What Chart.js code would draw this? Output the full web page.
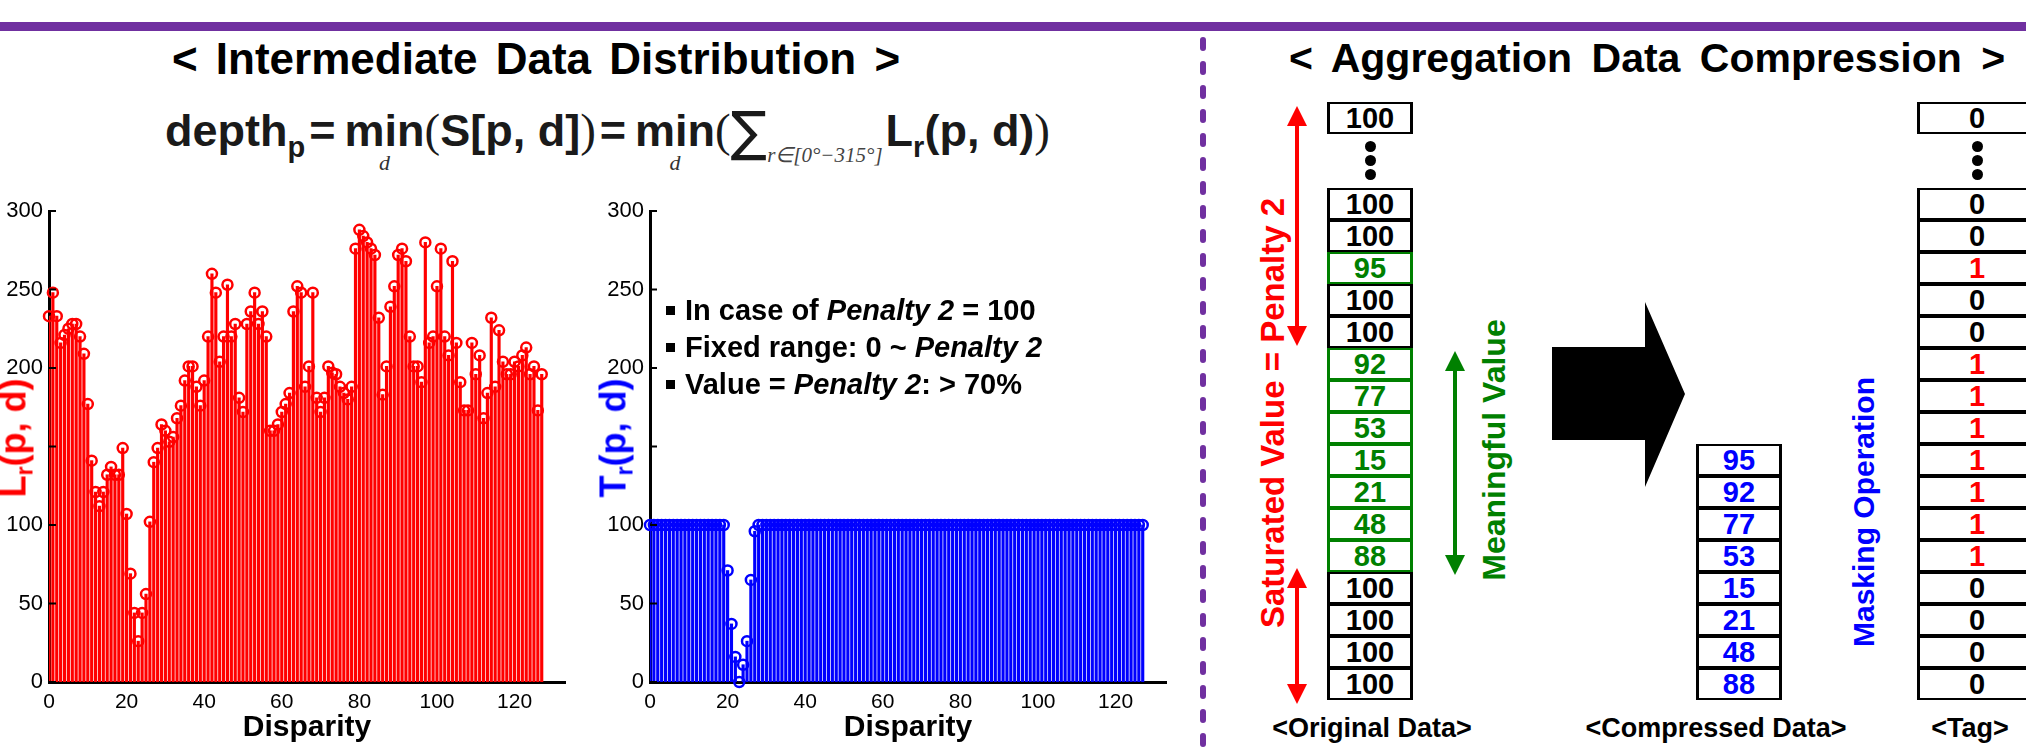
<!DOCTYPE html>
<html>
<head>
<meta charset="utf-8">
<title>Intermediate Data Distribution / Aggregation Data Compression</title>
<script src="https://cdn.jsdelivr.net/npm/chart.js@4.4.1/dist/chart.umd.min.js"></script>
<style>
  html, body { margin: 0; padding: 0; background: #fff; }
  body { position: relative; width: 2026px; height: 749px; overflow: hidden;
         font-family: "Liberation Sans", Arial, sans-serif; color: #000; }
  .abs { position: absolute; white-space: nowrap; }
  canvas { position: absolute; }
  #overlay { position: absolute; left: 0; top: 0; }

  .title { font: bold 40px/40px "Liberation Sans", Arial, sans-serif; transform: translateX(-50%); }
  #titleL { left: 536px; top: 37px; font-size: 44px; line-height: 44px; word-spacing: 6px; }
  #titleR { left: 1647px; top: 38px; font-size: 41px; line-height: 41px; word-spacing: 8px; }

  #formula { left: 165px; top: 108px; font: bold 45px/45px "Liberation Sans", Arial, sans-serif; color: #1a1a1a; }
  #formula .sb { font-size: 29px; vertical-align: -11px; }
  #formula .eq { margin: 0 9px 0 4px; }
  #formula .mn { position: relative; display: inline-block; }
  #formula .ud { position: absolute; left: 50%; top: 44px; transform: translateX(-50%);
                 font: italic 22px/22px "Liberation Serif", serif; color: #333; }
  #formula .lp { font-family: "Liberation Serif", serif; font-weight: normal; font-size: 47px; }
  #formula .sg { font: normal 54px/45px "DejaVu Sans", sans-serif; vertical-align: -4px; }
  #formula .rg { font: italic 21px/21px "Liberation Serif", serif; vertical-align: -16px; color: #444; margin-right: 3px; }

  .rot { font: bold 32px/32px "Liberation Sans", Arial, sans-serif; transform: translate(-50%, -50%) rotate(-90deg); }
  .rot sub { font-size: 23px; vertical-align: -7px; }
  .ytitle { font-size: 36px; line-height: 36px; }

  #notes { left: 666px; top: 292px; font: bold 29px/37px "Liberation Sans", Arial, sans-serif; }
  #notes .bl { display: inline-block; width: 9px; height: 9px; background: #000; margin-right: 10px; vertical-align: 5px; }

  .cell { position: absolute; box-sizing: border-box; border: solid #000; border-width: 2px 3px;
          text-align: center; font: bold 29px/28px "Liberation Sans", Arial, sans-serif; background: #fff; }
  .dot { position: absolute; width: 11px; height: 11px; border-radius: 50%; background: #000; }
  .lbl { top: 713px; font: bold 27px/30px "Liberation Sans", Arial, sans-serif; transform: translateX(-50%); }
</style>
</head>
<body>

<svg id="overlay" width="2026" height="749"></svg>

<div id="titleL" class="abs title">&lt; Intermediate Data Distribution &gt;</div>
<div id="titleR" class="abs title">&lt; Aggregation Data Compression &gt;</div>

<div id="formula" class="abs">depth<span class="sb">p</span><span class="eq">=</span><span class="mn">min<span class="ud">d</span></span><span class="lp">(</span>S[p, d]<span class="lp">)</span><span class="eq">=</span><span class="mn">min<span class="ud">d</span></span><span class="lp">(</span><span class="sg">&#8721;</span><span class="rg">r&#8712;[0&#176;&#8722;315&#176;]</span>L<span class="sb">r</span>(p, d)<span class="lp">)</span></div>

<canvas id="lrChart" width="600" height="560" style="left:0px;top:190px"></canvas>
<canvas id="trChart" width="600" height="560" style="left:601px;top:190px"></canvas>

<div class="abs rot ytitle" style="left:19px;top:438px;color:#ff0000">L<sub>r</sub>(p, d)</div>
<div class="abs rot ytitle" style="left:619px;top:438px;color:#0000ff">T<sub>r</sub>(p, d)</div>

<div id="notes" class="abs">
  <div><span class="bl"></span>In case of <i>Penalty 2</i> = 100</div>
  <div><span class="bl"></span>Fixed range: 0 ~ <i>Penalty 2</i></div>
  <div><span class="bl"></span>Value = <i>Penalty 2</i>: &gt; 70%</div>
</div>

<div class="abs rot" style="left:1273px;top:413px;color:#ff0000;font-size:33px">Saturated Value = Penalty 2</div>
<div class="abs rot" style="left:1494px;top:450px;color:#008000">Meaningful Value</div>
<div class="abs rot" style="left:1864px;top:512px;color:#0000ff;font-size:30px">Masking Operation</div>

<div class="abs lbl" style="left:1372px">&lt;Original Data&gt;</div>
<div class="abs lbl" style="left:1716px">&lt;Compressed Data&gt;</div>
<div class="abs lbl" style="left:1970px">&lt;Tag&gt;</div>

<script>
// ---- chart data ----
var disparity = [];
for (var i = 0; i < 128; i++) disparity.push(i);

// L_r(p, d)
var lrValues = [
  233, 248, 233, 216, 221, 225, 228, 228, 220, 209, 177, 141, 121, 112, 121, 132,
  137, 132, 132, 149, 107,  69,  44,  26,  44,  56, 102, 140, 149, 164, 160, 153,
  156, 168, 176, 192, 201, 201, 188, 176, 192, 220, 260, 248, 204, 220, 253, 220,
  228, 181, 172, 228, 236, 248, 228, 236, 220, 160, 160, 164, 172, 177, 184, 236,
  252, 248, 188, 201, 248, 181, 172, 181, 201, 197, 196, 188, 184, 180, 188, 276,
  288, 284, 280, 276, 272, 232, 183, 201, 239, 252, 272, 276, 268, 220, 201, 201,
  191, 280, 216, 220, 252, 276, 220, 208, 268, 216, 191, 173, 173, 216, 196, 208,
  168, 184, 232, 188, 224, 204, 196, 196, 204, 201, 208, 213, 196, 201, 173, 196
];

// T_r(p, d), clipped at Penalty 2 = 100
var trValues = [
  100, 100, 100, 100, 100, 100, 100, 100, 100, 100, 100, 100, 100, 100, 100, 100,
  100, 100, 100, 100,  71,  37,  16,   0,  11,  26,  65,  96, 100, 100, 100, 100,
  100, 100, 100, 100, 100, 100, 100, 100, 100, 100, 100, 100, 100, 100, 100, 100,
  100, 100, 100, 100, 100, 100, 100, 100, 100, 100, 100, 100, 100, 100, 100, 100,
  100, 100, 100, 100, 100, 100, 100, 100, 100, 100, 100, 100, 100, 100, 100, 100,
  100, 100, 100, 100, 100, 100, 100, 100, 100, 100, 100, 100, 100, 100, 100, 100,
  100, 100, 100, 100, 100, 100, 100, 100, 100, 100, 100, 100, 100, 100, 100, 100,
  100, 100, 100, 100, 100, 100, 100, 100, 100, 100, 100, 100, 100, 100, 100, 100
];

var xTicks = [0, 20, 40, 60, 80, 100, 120];
var yTicks = [0, 50, 100, 150, 200, 250, 300];
var yHiddenLabels = [150];
var xMax = 133;

// ---- compression diagram data ----
var originalTop = 100;
var originalData = [100, 100, 95, 100, 100, 92, 77, 53, 15, 21, 48, 88, 100, 100, 100, 100];
var compressedData = [95, 92, 77, 53, 15, 21, 48, 88];
var tagTop = 0;
var tagData = [0, 0, 1, 0, 0, 1, 1, 1, 1, 1, 1, 1, 0, 0, 0, 0];
var penalty2 = 100;

Chart.defaults.font.family = '"Liberation Sans", Arial, sans-serif';
Chart.defaults.color = '#000';

// small inward tick marks on the y axis (matlab style)
var inwardTicks = {
    id: 'inwardTicks',
    afterDatasetsDraw: function(chart) {
        var c = chart.ctx, y = chart.scales.y, left = chart.chartArea.left;
        c.save();
        c.strokeStyle = '#000';
        c.lineWidth = 2;
        yTicks.forEach(function(v) {
            var py = y.getPixelForValue(v);
            c.beginPath();
            c.moveTo(left, py);
            c.lineTo(left + 7, py);
            c.stroke();
        });
        c.restore();
    }
};

function stemChart(id, values, color) {
    var points = disparity.map(function(d, i) { return { x: d, y: values[i] }; });
    return new Chart(document.getElementById(id), {
        type: 'bar',
        data: {
            datasets: [{
                type: 'line',
                data: points,
                showLine: false,
                clip: false,
                pointStyle: 'circle',
                pointRadius: 5,
                pointBorderWidth: 2.5,
                pointBorderColor: color,
                pointBackgroundColor: 'rgba(0,0,0,0)',
                order: 1
            }, {
                type: 'bar',
                data: points,
                backgroundColor: color,
                barThickness: 2.5,
                borderWidth: 0,
                order: 2
            }]
        },
        options: {
            responsive: false,
            animation: false,
            layout: { padding: { top: 21, right: 35, left: 0, bottom: 0 } },
            plugins: { legend: { display: false }, tooltip: { enabled: false } },
            scales: {
                x: {
                    type: 'linear',
                    min: 0,
                    max: xMax,
                    offset: false,
                    grid: { display: false, drawTicks: false },
                    border: { display: true, color: '#000', width: 3 },
                    ticks: { padding: 8, font: { size: 21 }, color: '#000', maxRotation: 0 },
                    afterBuildTicks: function(s) { s.ticks = xTicks.map(function(v) { return { value: v }; }); },
                    title: { display: true, text: 'Disparity', color: '#000',
                             font: { size: 30, weight: 'bold' }, padding: { top: 0, bottom: 4 } },
                    afterFit: function(s) { s.height = 68; }
                },
                y: {
                    min: 0,
                    max: 300,
                    grid: { display: false, drawTicks: false },
                    border: { display: true, color: '#000', width: 3 },
                    ticks: {
                        padding: 6, font: { size: 22 }, color: '#000',
                        callback: function(v) { return yHiddenLabels.indexOf(v) >= 0 ? '' : v; }
                    },
                    afterBuildTicks: function(s) { s.ticks = yTicks.map(function(v) { return { value: v }; }); },
                    afterFit: function(s) { s.width = 49; }
                }
            }
        },
        plugins: [inwardTicks]
    });
}

var lrChart = stemChart('lrChart', lrValues, '#ff0000');
var trChart = stemChart('trChart', trValues, '#0000ff');

// ---- compression diagram ----
var rowH = 32, stackTop = 188;
function cell(left, top, w, text, border, color) {
    var d = document.createElement('div');
    d.className = 'cell';
    d.style.left = left + 'px';
    d.style.top = top + 'px';
    d.style.width = w + 'px';
    d.style.height = rowH + 'px';
    d.style.borderColor = border;
    d.style.color = color;
    d.textContent = text;
    document.body.appendChild(d);
}
function dots(cx) {
    [146, 160, 174].forEach(function(cy) {
        var d = document.createElement('div');
        d.className = 'dot';
        d.style.left = (cx - 5.5) + 'px';
        d.style.top = (cy - 5.5) + 'px';
        document.body.appendChild(d);
    });
}

var origX = 1327, compX = 1696, tagX = 1917, colW = 86, tagW = 120;
cell(origX, 102, colW, originalTop, '#000', '#000');
dots(origX + colW / 2);
originalData.forEach(function(v, i) {
    var meaningful = v !== penalty2;
    cell(origX, stackTop + i * rowH, colW, v, meaningful ? '#008000' : '#000', meaningful ? '#008000' : '#000');
});
var compTop = stackTop + (originalData.length - compressedData.length) * rowH;
compressedData.forEach(function(v, i) {
    cell(compX, compTop + i * rowH, colW, v, '#000', '#0000ff');
});
cell(tagX, 102, tagW, tagTop, '#000', '#000');
dots(tagX + tagW / 2);
tagData.forEach(function(v, i) {
    cell(tagX, stackTop + i * rowH, tagW, v, '#000', v === 1 ? '#ff0000' : '#000');
});

// ---- decorations: purple rule, divider, arrows ----
var svgNS = 'http://www.w3.org/2000/svg';
var svg = document.getElementById('overlay');
function el(name, attrs) {
    var e = document.createElementNS(svgNS, name);
    for (var k in attrs) e.setAttribute(k, attrs[k]);
    svg.appendChild(e);
    return e;
}
el('rect', { x: 0, y: 22, width: 2026, height: 9, fill: '#7030a0' });
el('line', { x1: 1203, y1: 40, x2: 1203, y2: 749, stroke: '#7030a0', 'stroke-width': 6,
             'stroke-dasharray': '8 16', 'stroke-linecap': 'round' });

function doubleArrow(x, y1, y2, color) {
    var h = 20, w = 10;
    el('line', { x1: x, y1: y1 + h - 2, x2: x, y2: y2 - h + 2, stroke: color, 'stroke-width': 4 });
    el('polygon', { points: x + ',' + y1 + ' ' + (x - w) + ',' + (y1 + h) + ' ' + (x + w) + ',' + (y1 + h), fill: color });
    el('polygon', { points: x + ',' + y2 + ' ' + (x - w) + ',' + (y2 - h) + ' ' + (x + w) + ',' + (y2 - h), fill: color });
}
doubleArrow(1297, 106, 346, '#ff0000');
doubleArrow(1297, 568, 704, '#ff0000');
doubleArrow(1455, 351, 575, '#008000');

el('polygon', { points: '1552,347 1645,347 1645,302 1685,394 1645,487 1645,440 1552,440', fill: '#000' });
</script>
</body>
</html>
